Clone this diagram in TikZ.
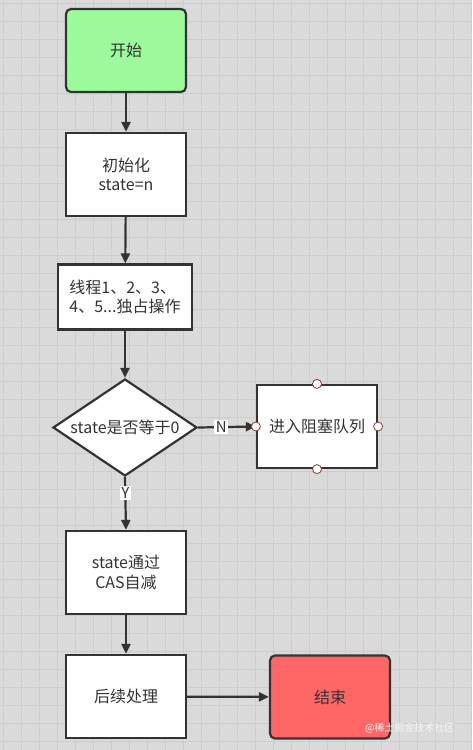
\documentclass[tikz,border=0pt]{standalone}
\usepackage{fontspec}
\setmainfont{Noto Sans CJK SC}
\usetikzlibrary{shapes.geometric,arrows.meta}
\definecolor{bgc}{HTML}{DADADA}
\definecolor{gridc}{HTML}{CDCDCD}
\definecolor{linec}{HTML}{333333}
\definecolor{startc}{HTML}{9CF99C}
\definecolor{endc}{HTML}{FF6666}
\definecolor{portc}{HTML}{8B3A3A}
\tikzset{
  txt/.style={font=\fontsize{16}{19.5}\selectfont, text=linec},
  box/.style={txt, draw=linec, line width=2.2pt, fill=white, minimum width=120pt, minimum height=83pt, align=center, inner sep=2pt},
  terminal/.style={box, rounded corners=5pt},
  flow/.style={draw=linec, line width=2.2pt, -{Triangle[length=10pt,width=9pt]}},
  lbl/.style={fill=white, inner sep=1.5pt, font=\fontsize{15}{17}\selectfont, text=linec},
  port/.style={circle, draw=portc, fill=white, line width=0.8pt, minimum size=9pt, inner sep=0pt},
}
\begin{document}
\begin{tikzpicture}[x=1pt,y=-1pt]
\fill[bgc] (0,0) rectangle (472,750);
\useasboundingbox (0,0) rectangle (472,750);
\foreach \i in {0,...,26} { \draw[gridc, line width=0.7pt] (\i*18+3,0) -- (\i*18+3,750); }
\foreach \j in {0,...,42} { \draw[gridc, line width=0.7pt] (0,\j*18+3) -- (472,\j*18+3); }

\node[terminal, fill=startc] (start) at (126,50.5) {开始};
\node[box] (init) at (126,174.5) {初始化\\state=n};
\node[box, minimum width=134pt, minimum height=65pt, align=left] (thr) at (125,297) {线程1、2、3、\\4、5...独占操作};
\node[diamond, draw=linec, line width=2.2pt, fill=white, minimum width=144pt, minimum height=97pt, inner sep=0pt, aspect=1.48] (dec) at (125,427.5) {};
\node[txt] (dectext) at (dec.center) {state是否等于0};
\node[box] (block) at (317,426.5) {进入阻塞队列};
\node[box] (cas) at (126,572.5) {state通过\\CAS自减};
\node[box] (post) at (126,696.5) {后续处理};
\node[terminal, fill=endc] (end) at (330,697) {结束};

\draw[flow] (start) -- (init);
\draw[flow] (init) -- (thr);
\draw[flow] (thr) -- (dec);
\draw[flow] (dec.east) -- node[lbl, pos=0.4] {N} (block.west);
\draw[flow] (dec.south) -- node[lbl, pos=0.3] {Y} (cas.north);
\draw[flow] (cas) -- (post);
\draw[flow] (post) -- (end);

\node[port] (p1) at (block.north) {};
\node[port] (p2) at (block.south) {};
\node[port] (p3) at (block.west) {};
\node[port] (p4) at (block.east) {};

\node[text=white!92!gray, font=\fontsize{10}{12}\selectfont, anchor=east] (wm) at (458,728) {@稀土掘金技术社区};
\end{tikzpicture}
\end{document}
